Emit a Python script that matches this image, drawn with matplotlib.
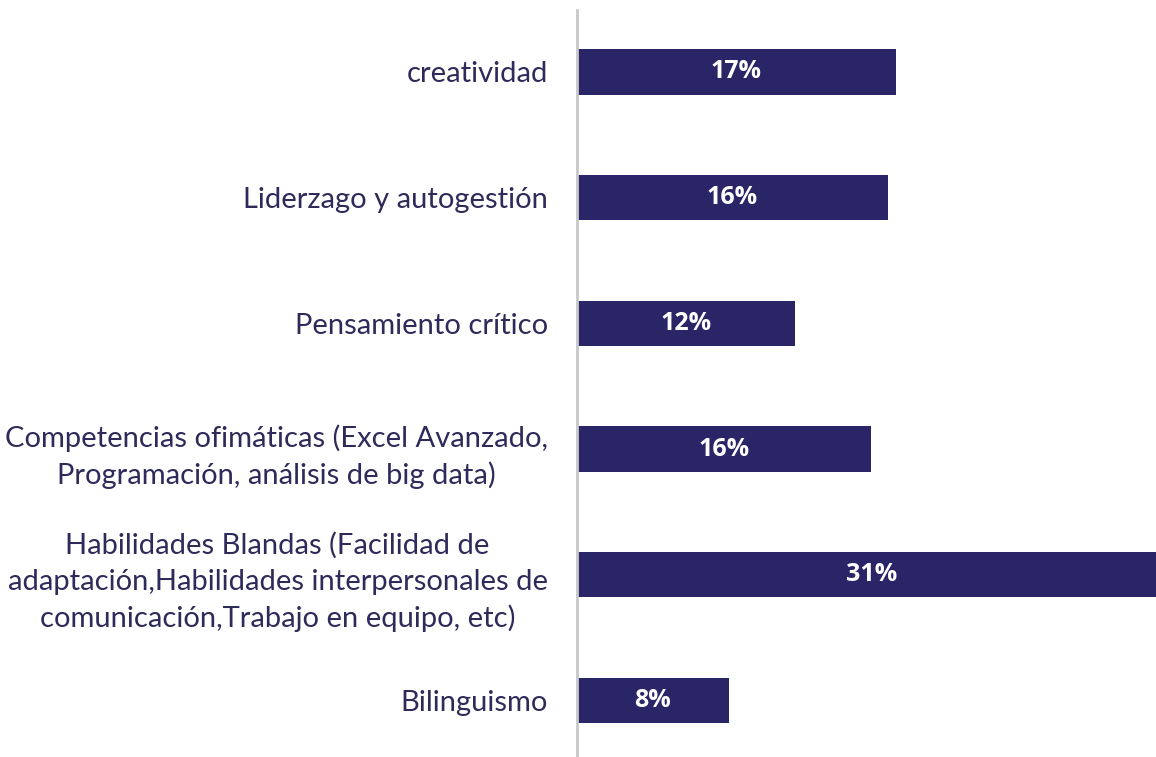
import matplotlib.pyplot as plt

# Datos (de arriba hacia abajo)
categorias = [
    'creatividad',
    'Liderzago y autogestión',
    'Pensamiento crítico',
    'Competencias ofimáticas (Excel Avanzado,\nProgramación, análisis de big data)',
    'Habilidades Blandas (Facilidad de\nadaptación,Habilidades interpersonales de\ncomunicación,Trabajo en equipo, etc)',
    'Bilinguismo',
]
valores = [16.8, 16.4, 11.5, 15.5, 31.0, 8.0]
etiquetas = ['17%', '16%', '12%', '16%', '31%', '8%']

color_barra = '#2A2566'
color_texto = '#2E2A5A'

fig = plt.figure(figsize=(11.56, 7.57), dpi=100)
ax = fig.add_axes([0.499, 0.0, 0.501, 0.987])

pos = list(range(len(categorias)))
barras = ax.barh(pos, valores, height=0.36, color=color_barra)

for b, txt in zip(barras, etiquetas):
    ax.text(b.get_width() / 2, b.get_y() + b.get_height() / 2, txt,
            ha='center', va='center', color='white', fontsize=18,
            fontweight='bold', family='Open Sans')

ax.set_xlim(0, 30.5)
ax.set_ylim(5.45, -0.494)
ax.set_yticks(pos)
ax.set_yticklabels(categorias, fontsize=21, color=color_texto,
                   family='Lato', ha='right', multialignment='center',
                   linespacing=1.45)
ax.tick_params(axis='y', length=0, pad=21)
ax.set_xticks([])

for s in ['top', 'right', 'bottom']:
    ax.spines[s].set_visible(False)
ax.spines['left'].set_color('#C8C8C8')
ax.spines['left'].set_linewidth(2)

fig.savefig('out.png', dpi=100)
